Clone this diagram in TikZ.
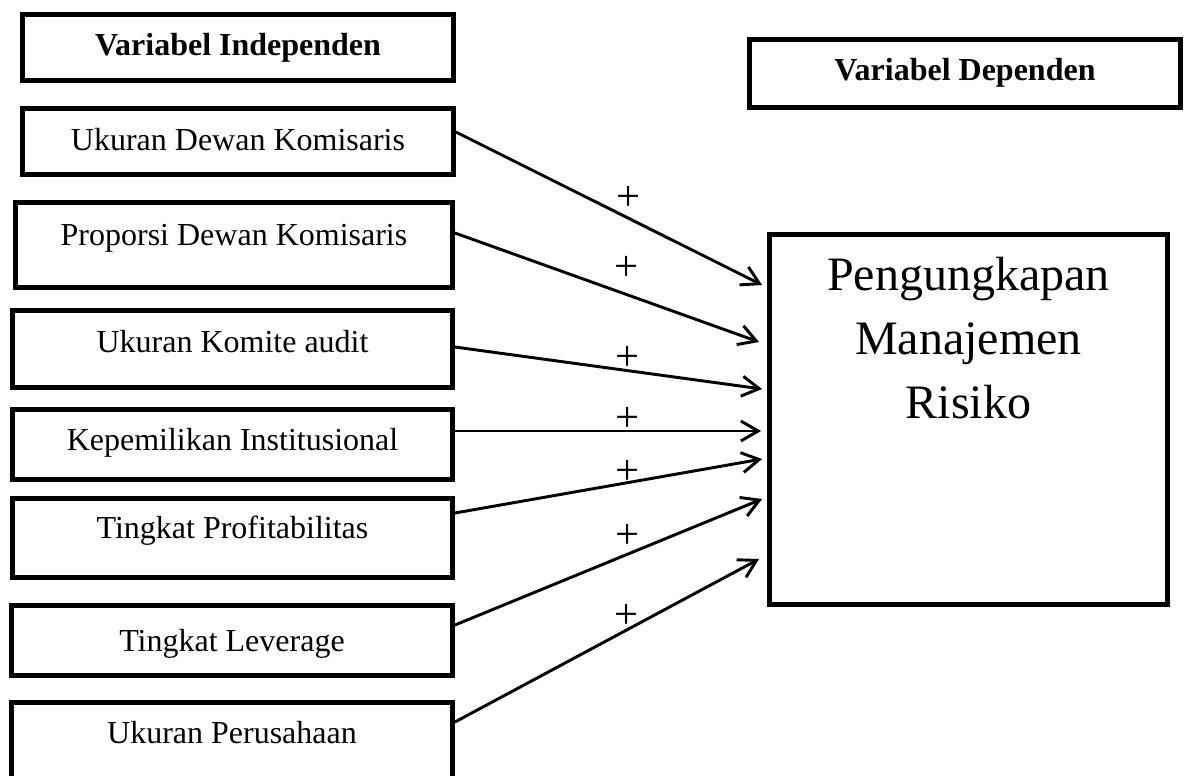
\documentclass[tikz,border=0pt]{standalone}
\usepackage{fontspec}
\setmainfont{Liberation Serif}
\usetikzlibrary{arrows.meta}

\begin{document}
\begin{tikzpicture}[x=0.375pt, y=-0.375pt,
  varbox/.style={draw, line width=1.8pt, inner sep=0pt, font=\fontsize{12}{14}\selectfont, text height=8.5pt, text depth=1.5pt},
  riskbox/.style={draw, line width=1.8pt, inner sep=0pt, align=center, font=\fontsize{18}{24}\selectfont},
  arrow/.style={line width=1.1pt, -{Straight Barb[length=6.5pt, width=7.5pt]}},
  plus/.style={above=#1, pos=0.563, inner sep=0pt, font=\fontsize{16}{18}\selectfont},
  plus/.default=0pt]
\path[use as bounding box, clip] (0,0) rectangle (1185,775);
\node [varbox, minimum width=161.6pt, minimum height=24.75pt, text depth=2.5pt, font=\bfseries\fontsize{12}{14}\selectfont] (ind) at (238,47.5) {Variabel Independen};
\node [varbox, minimum width=161.6pt, minimum height=24.75pt] (ukdk) at (238,141.5) {Ukuran Dewan Komisaris};
\node [varbox, minimum width=163.9pt, minimum height=31.9pt, text depth=8.5pt] (prop) at (234,245) {Proporsi Dewan Komisaris};
\node [varbox, minimum width=165pt, minimum height=28.9pt, text depth=6.25pt] (komite) at (232.5,349) {Ukuran Komite audit};
\node [varbox, minimum width=165pt, minimum height=26.25pt, text depth=4pt] (inst) at (232.5,444.5) {Kepemilikan Institusional};
\node [varbox, minimum width=165pt, minimum height=29.6pt, text depth=8.5pt] (profit) at (232.5,538) {Tingkat Profitabilitas};
\node [varbox, minimum width=165.4pt, minimum height=26.25pt, text depth=0pt] (lev) at (232,640.5) {Tingkat Leverage};
\node [varbox, minimum width=165.4pt, minimum height=31.9pt, text depth=10pt] (size) at (232,745) {Ukuran Perusahaan};
\node [varbox, minimum width=161.6pt, minimum height=25.5pt, text depth=3.5pt, font=\bfseries\fontsize{12}{14}\selectfont] (dep) at (965,73.5) {Variabel Dependen};
\node [riskbox, minimum width=149.25pt, minimum height=138.75pt, text height=62.2pt, text depth=62.8pt] (risk) at (968.5,419.5) {Pengungkapan\\Manajemen\\Risiko};
\draw [arrow] ([shift={(0,-9.5)}]ukdk.east) -- node [plus=2.4pt] {+} ([shift={(-5,-134.5)}]risk.west);
\draw [arrow] ([shift={(0,-12)}]prop.east) -- node [plus=4.6pt] {+} ([shift={(-8,-77.5)}]risk.west);
\draw [arrow] ([shift={(0,-2)}]komite.east) -- node [plus=-0.6pt] {+} ([shift={(-5,-30.5)}]risk.west);
\draw [arrow] ([shift={(0,-13.5)}]inst.east) -- node [plus=-0.6pt] {+} ([shift={(-6,11.5)}]risk.west);
\draw [arrow] ([shift={(0,-25)}]profit.east) -- node [plus=-1.1pt] {+} ([shift={(-5,39.5)}]risk.west);
\draw [arrow] ([shift={(0,-15.5)}]lev.east) -- node [plus=1.6pt] {+} ([shift={(-5,79.5)}]risk.west);
\draw [arrow] ([shift={(0,-23)}]size.east) -- node [plus] {+} ([shift={(-8,139.5)}]risk.west);
\end{tikzpicture}
\end{document}
